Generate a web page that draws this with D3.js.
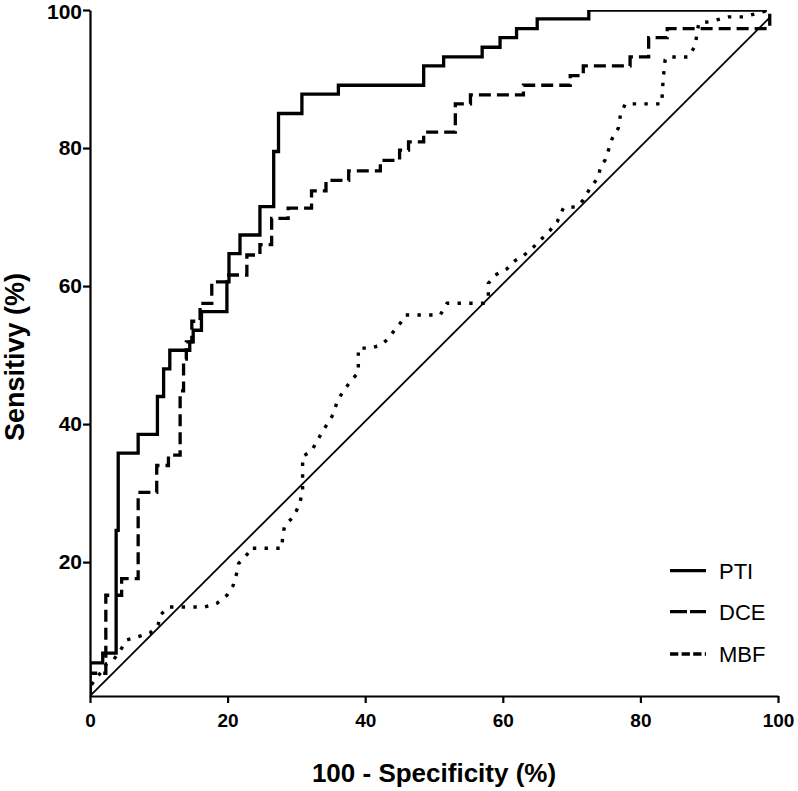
<!DOCTYPE html>
<html>
<head>
<meta charset="utf-8">
<script src="https://cdn.jsdelivr.net/npm/d3@7"></script>
<style>
  html, body { margin: 0; padding: 0; background: #fff; }
  svg { display: block; }
  text { font-family: "Liberation Sans", Arial, sans-serif; fill: #000; }
</style>
</head>
<body>
<svg id="chart" width="798" height="791"></svg>
<script>
// ---- Data ----
const xTicks = [0, 20, 40, 60, 80, 100];
const yTicks = [20, 40, 60, 80, 100];
const seriesNames = ["PTI", "DCE", "MBF"];
const xTitle = "100 - Specificity (%)";
const yTitle = "Sensitivy (%)";

// PTI: step curve (stepAfter corner points)
const ptiX = [0, 0, 1.85, 3.8, 4.1, 7.0, 9.8, 10.7, 11.6, 14.5, 15.0, 16.2, 19.9, 20.2, 21.8, 24.7, 26.7, 27.4, 30.8, 36.1, 48.5, 51.4, 57.0, 59.6, 62.0, 65.0, 72.5, 98.4];
const ptiY = [0.6, 5.4, 6.8, 24.6, 35.8, 38.5, 44.0, 48.0, 50.7, 51.9, 53.6, 56.3, 60.6, 64.7, 67.4, 71.5, 79.5, 85.0, 87.8, 89.1, 91.9, 93.2, 94.6, 96.0, 97.3, 98.7, 100, 100];

// DCE: step curve (stepAfter corner points)
const dceX = [0, 0, 2.3, 4.6, 7.0, 9.7, 11.4, 13.1, 13.6, 14.0, 14.8, 16.0, 17.7, 19.9, 22.8, 24.7, 26.4, 28.8, 32.2, 34.3, 37.6, 42.2, 45.0, 46.3, 48.5, 53.1, 55.3, 63.0, 69.8, 71.7, 78.5, 81.2, 83.9, 98.8];
const dceY = [0.6, 3.9, 15.2, 17.6, 30.1, 34.0, 35.5, 44.8, 49.4, 51.9, 54.9, 57.5, 60.6, 61.6, 64.5, 66.0, 69.8, 71.3, 73.8, 75.3, 76.7, 78.2, 79.7, 80.9, 82.3, 86.4, 87.7, 89.1, 90.5, 91.9, 93.2, 96.0, 97.3, 100];

// MBF: polyline through read points
const mbfX = [0, 0, 1.0, 1.9, 2.4, 3.4, 4.4, 5.3, 7.0, 8.7, 9.9, 10.2, 11.4, 16.7, 18.4, 19.9, 20.8, 21.3, 21.6, 23.0, 23.2, 27.9, 28.0, 28.3, 29.6, 30.5, 30.9, 30.9, 32.2, 33.2, 34.4, 35.4, 35.9, 36.7, 37.8, 39.0, 39.0, 40.7, 42.2, 43.4, 44.6, 45.1, 45.8, 50.9, 51.9, 57.2, 57.9, 57.9, 58.9, 60.6, 61.8, 63.0, 64.5, 65.7, 66.9, 67.9, 68.8, 70.8, 71.7, 72.7, 73.9, 74.2, 74.9, 75.9, 76.8, 77.1, 77.8, 83.1, 83.3, 83.6, 83.9, 87.0, 88.0, 88.2, 88.5, 90.0, 92.8, 95.0, 98.8];
const mbfY = [0.6, 1.9, 3.4, 4.3, 5.3, 5.8, 7.2, 8.7, 9.2, 9.7, 10.9, 12.3, 13.5, 13.5, 14.0, 15.2, 16.6, 18.3, 19.8, 21.3, 22.0, 22.0, 23.8, 25.3, 26.6, 28.5, 30.5, 35.3, 36.1, 37.9, 39.9, 41.5, 43.2, 44.6, 46.1, 47.5, 51.0, 51.0, 51.4, 52.4, 54.1, 54.6, 55.8, 55.8, 57.5, 57.5, 58.5, 60.4, 61.6, 62.5, 63.7, 64.4, 65.7, 66.9, 68.1, 69.3, 71.3, 71.5, 72.5, 74.2, 75.8, 77.3, 78.3, 81.4, 82.9, 84.8, 86.4, 86.4, 89.9, 92.8, 93.2, 93.2, 94.9, 96.6, 98.1, 98.3, 99.0, 99.0, 100];

// Reference (chance) diagonal
const diagX = [0, 98.9];
const diagY = [0.6, 99.0];

// ---- Drawing ----
const svg = d3.select("#chart");
const x = d3.scaleLinear().domain([0, 100]).range([90, 778]);
const y = d3.scaleLinear().domain([0.6, 100]).range([696, 10]);

const zip = (xs, ys) => xs.map((v, i) => [v, ys[i]]);

svg.append("defs").append("clipPath").attr("id", "plotclip")
  .append("rect")
  .attr("x", x(0)).attr("y", y(100))
  .attr("width", x(100) - x(0)).attr("height", y(0.6) - y(100));

const plot = svg.append("g").attr("clip-path", "url(#plotclip)");

const lineLinear = d3.line().x(d => x(d[0])).y(d => y(d[1]));
const lineStep = d3.line().x(d => x(d[0])).y(d => y(d[1])).curve(d3.curveStepAfter);

// diagonal
plot.append("path").datum(zip(diagX, diagY))
  .attr("d", lineLinear).attr("fill", "none")
  .attr("stroke", "#000").attr("stroke-width", 1.8);

// MBF dotted
plot.append("path").datum(zip(mbfX, mbfY))
  .attr("d", lineLinear).attr("fill", "none")
  .attr("stroke", "#000").attr("stroke-width", 3.4)
  .attr("stroke-dasharray", "3.4,8.3");

// DCE dashed
plot.append("path").datum(zip(dceX, dceY))
  .attr("d", lineStep).attr("fill", "none")
  .attr("stroke", "#000").attr("stroke-width", 3.3)
  .attr("stroke-dasharray", "12,6");

// PTI solid
plot.append("path").datum(zip(ptiX, ptiY))
  .attr("d", lineStep).attr("fill", "none")
  .attr("stroke", "#000").attr("stroke-width", 3.3)
  .attr("stroke-linejoin", "miter");

// Axes
const yAxis = svg.append("g").attr("transform", `translate(${x(0)},0)`)
  .call(d3.axisLeft(y).tickValues(yTicks).tickSize(7).tickSizeOuter(0).tickPadding(1).tickFormat(d3.format("d")));
const xAxis = svg.append("g").attr("transform", `translate(0,${y(0.6)})`)
  .call(d3.axisBottom(x).tickValues(xTicks).tickSize(7).tickSizeOuter(0).tickPadding(11).tickFormat(d3.format("d")));

[xAxis, yAxis].forEach(g => {
  g.select(".domain").attr("stroke", "#000").attr("stroke-width", 2.2);
  g.selectAll(".tick line").attr("stroke", "#000").attr("stroke-width", 2.2);
  g.selectAll(".tick text").attr("font-family", "'Liberation Sans', Arial, sans-serif")
    .attr("font-weight", "bold").attr("fill", "#000");
});
yAxis.selectAll(".tick text").attr("font-size", 21);
// keep the topmost label inside the page edge
yAxis.selectAll(".tick text").filter(d => d === 100).attr("dy", "0.42em");
xAxis.selectAll(".tick text").attr("font-size", 19);

// Axis titles
svg.append("text")
  .attr("x", (x(0) + x(100)) / 2).attr("y", 781.5)
  .attr("text-anchor", "middle").attr("font-size", 26).attr("font-weight", "bold")
  .text(xTitle);

svg.append("text")
  .attr("transform", `translate(24,${357}) rotate(-90)`)
  .attr("text-anchor", "middle").attr("font-size", 27).attr("font-weight", "bold")
  .text(yTitle);

// Legend
const legendDash = ["none", "17,3", "8.3,3.3"];
const legendY = [570.7, 611.7, 654];
const legend = svg.append("g");
seriesNames.forEach((name, i) => {
  legend.append("line")
    .attr("x1", 670).attr("x2", 706)
    .attr("y1", legendY[i]).attr("y2", legendY[i])
    .attr("stroke", "#000").attr("stroke-width", 3.3)
    .attr("stroke-dasharray", legendDash[i]);
  legend.append("text")
    .attr("x", 719).attr("y", legendY[i] + 7.8)
    .attr("font-size", 22)
    .text(name);
});
</script>
</body>
</html>
